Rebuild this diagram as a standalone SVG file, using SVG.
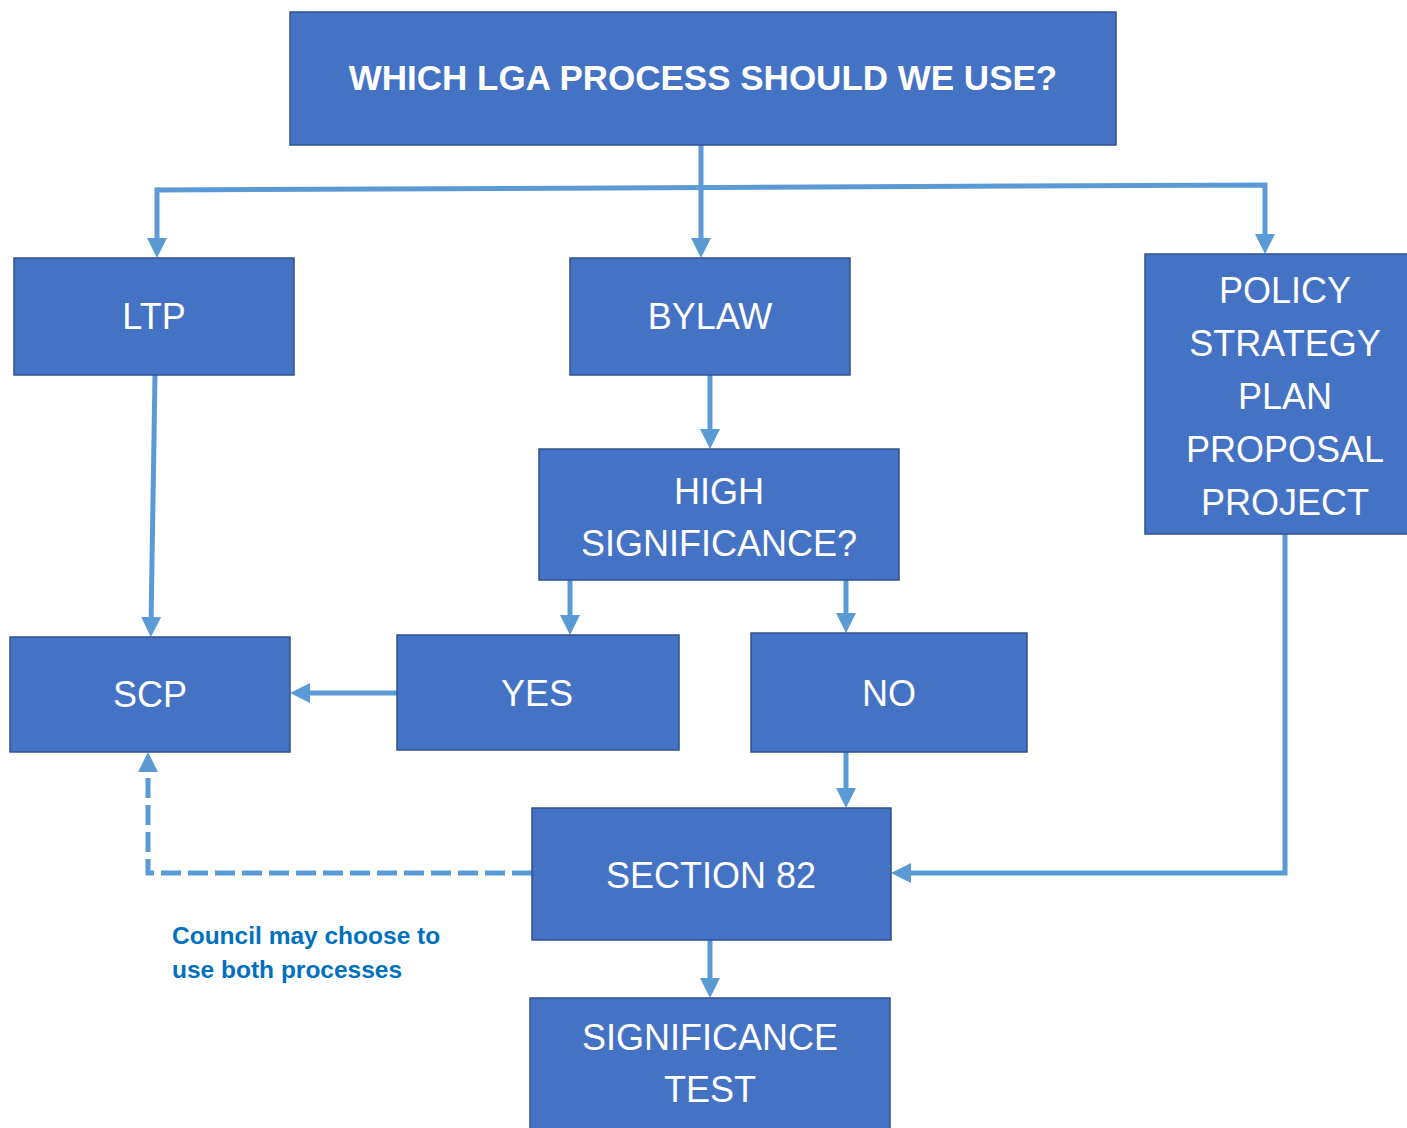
<svg xmlns="http://www.w3.org/2000/svg" width="1407" height="1128" viewBox="0 0 1407 1128">
<style>
.box{fill:#4472C4;stroke:#2F528F;stroke-width:1.5}
.lbl{font-family:"Liberation Sans",Arial,sans-serif;font-size:36px;fill:#FFFFFF;text-anchor:middle}
.title{font-weight:bold;font-size:35px}
.con{fill:none;stroke:#5B9BD5;stroke-width:5}
.dash{stroke-dasharray:20 7}
.note{font-family:"Liberation Sans",Arial,sans-serif;font-size:24.5px;font-weight:bold;fill:#0070C0}
</style>
<defs>
<marker id="arr" markerUnits="userSpaceOnUse" markerWidth="20" markerHeight="20" viewBox="0 0 20 20" refX="8" refY="10" orient="auto">
<path d="M0,0 L20,10 L0,20 z" fill="#5B9BD5"/>
</marker>
</defs>
<rect width="1407" height="1128" fill="#FFFFFF"/>
<g id="connectors">
<path class="con" d="M701,145 V246" marker-end="url(#arr)"/>
<path class="con" d="M157,190 L1265,185 V242" marker-end="url(#arr)"/>
<path class="con" d="M157,187.5 V246" marker-end="url(#arr)"/>
<path class="con" d="M155,375 L151,625" marker-end="url(#arr)"/>
<path class="con" d="M710,375 V437" marker-end="url(#arr)"/>
<path class="con" d="M570,580 V623" marker-end="url(#arr)"/>
<path class="con" d="M846,580 V621" marker-end="url(#arr)"/>
<path class="con" d="M397,693 H302" marker-end="url(#arr)"/>
<path class="con" d="M846,752 V796" marker-end="url(#arr)"/>
<path class="con" d="M1285,534 V873 H903" marker-end="url(#arr)"/>
<path class="con dash" d="M532,873 H148 V764" marker-end="url(#arr)"/>
<path class="con" d="M710,940 V986" marker-end="url(#arr)"/>
</g>
<g id="title">
<rect class="box" x="290" y="12" width="826" height="133"/>
<text class="lbl title" x="703" y="90">WHICH LGA PROCESS SHOULD WE USE?</text>
</g>
<g id="ltp">
<rect class="box" x="14" y="258" width="280" height="117"/>
<text class="lbl" x="154" y="329">LTP</text>
</g>
<g id="bylaw">
<rect class="box" x="570" y="258" width="280" height="117"/>
<text class="lbl" x="710" y="329">BYLAW</text>
</g>
<g id="policy">
<rect class="box" x="1145" y="254" width="270" height="280"/>
<text class="lbl" x="1285" y="303">POLICY</text>
<text class="lbl" x="1285" y="356">STRATEGY</text>
<text class="lbl" x="1285" y="409">PLAN</text>
<text class="lbl" x="1285" y="462">PROPOSAL</text>
<text class="lbl" x="1285" y="515">PROJECT</text>
</g>
<g id="high">
<rect class="box" x="539" y="449" width="360" height="131"/>
<text class="lbl" x="719" y="504">HIGH</text>
<text class="lbl" x="719" y="556">SIGNIFICANCE?</text>
</g>
<g id="scp">
<rect class="box" x="10" y="637" width="280" height="115"/>
<text class="lbl" x="150" y="707">SCP</text>
</g>
<g id="yes">
<rect class="box" x="397" y="635" width="282" height="115"/>
<text class="lbl" x="537" y="706">YES</text>
</g>
<g id="no">
<rect class="box" x="751" y="633" width="276" height="119"/>
<text class="lbl" x="889" y="706">NO</text>
</g>
<g id="section82">
<rect class="box" x="532" y="808" width="359" height="132"/>
<text class="lbl" x="711" y="888">SECTION 82</text>
</g>
<g id="sigtest">
<rect class="box" x="530" y="998" width="360" height="140"/>
<text class="lbl" x="710" y="1050">SIGNIFICANCE</text>
<text class="lbl" x="710" y="1102">TEST</text>
</g>
<g id="note">
<text class="note" x="172" y="944">Council may choose to</text>
<text class="note" x="172" y="978">use both processes</text>
</g>
</svg>
